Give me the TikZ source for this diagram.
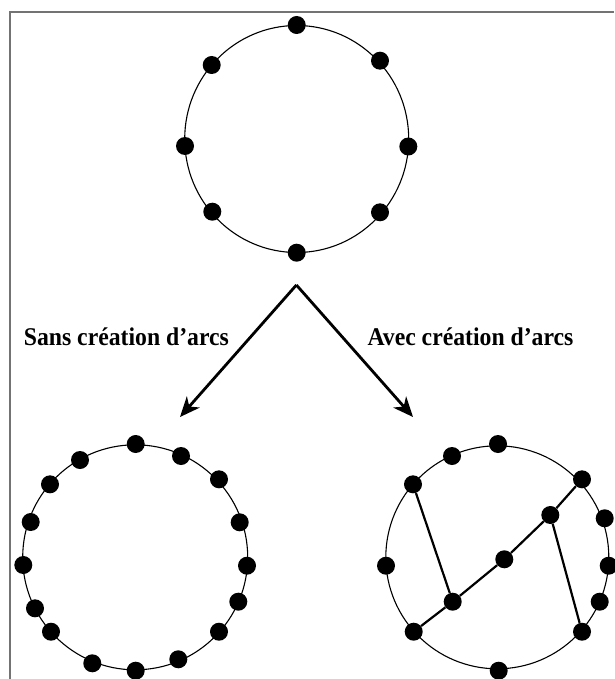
\documentclass[tikz,border=0pt]{standalone}
\usepackage{fontspec}
\setmainfont{Liberation Serif}
\newfontfamily\lblfont[FakeStretch=0.93]{Liberation Serif}
\usetikzlibrary{arrows.meta}
\tikzset{
  dot/.style={circle,fill=black,draw=none,inner sep=0pt,minimum size=18pt},
  ring/.style={line width=1.1pt,black},
  edgeline/.style={line width=2.2pt,black},
  bigarrow/.style={line width=2.8pt,black,-{Stealth[length=20pt,width=17pt,inset=6pt]}},
  lbl/.style={font=\lblfont\fontsize{25.5}{30}\selectfont\bfseries,inner sep=0pt,anchor=base},
  frame/.style={line width=1.4pt,color=black!55}
}
\begin{document}
\begin{tikzpicture}[x=1pt,y=-1pt]
\useasboundingbox (0,0) rectangle (614,679);
% frame (left and top edges)
\draw[frame] (10,679) -- (10,12) -- (614,12);
% top circle
\draw[ring] (296.7,139) ellipse [x radius=112,y radius=113.5];
\node[dot] (t1) at (296.7,25) {};
\node[dot] (t2) at (380,60.7) {};
\node[dot] (t3) at (408.3,146.5) {};
\node[dot] (t4) at (380,212.3) {};
\node[dot] (t5) at (296.7,252.7) {};
\node[dot] (t6) at (212.3,211.7) {};
\node[dot] (t7) at (185,146) {};
\node[dot] (t8) at (211.7,65) {};
% arrows
\coordinate (apex) at (296.4,285);
\coordinate (tipL) at (180,417);
\coordinate (tipR) at (413,417);
\draw[bigarrow] (apex) -- (tipL);
\draw[bigarrow] (apex) -- (tipR);
\node[lbl] (sans) at (126.4,345) {Sans création d’arcs};
\node[lbl] (avec) at (470.5,345) {Avec création d’arcs};
% bottom-left circle
\draw[ring] (135.2,557.3) circle [radius=112.5];
\node[dot] (l1) at (135.7,444) {};
\node[dot] (l2) at (181,456) {};
\node[dot] (l3) at (219,479.3) {};
\node[dot] (l4) at (239.7,522.3) {};
\node[dot] (l5) at (247,565.7) {};
\node[dot] (l6) at (238.3,601.7) {};
\node[dot] (l7) at (219,631.7) {};
\node[dot] (l8) at (178.3,659.3) {};
\node[dot] (l9) at (135.7,670.7) {};
\node[dot] (l10) at (92.3,663.3) {};
\node[dot] (l11) at (51,631.7) {};
\node[dot] (l12) at (35,608.3) {};
\node[dot] (l13) at (23.3,565) {};
\node[dot] (l14) at (30.7,522) {};
\node[dot] (l15) at (50,484.3) {};
\node[dot] (l16) at (80,460) {};
% bottom-right circle
\draw[ring] (497.3,557.3) circle [radius=111.5];
\node[dot] (r1) at (498,444) {};
\node[dot] (r2) at (582,479.3) {};
\node[dot] (r3) at (604.7,518.3) {};
\node[dot] (r4) at (608.7,565.7) {};
\node[dot] (r5) at (599.7,601.7) {};
\node[dot] (r6) at (582,631.7) {};
\node[dot] (r7) at (498.7,670.7) {};
\node[dot] (r8) at (413.7,631.7) {};
\node[dot] (r9) at (386,565.7) {};
\node[dot] (r10) at (413,484.3) {};
\node[dot] (r11) at (452,456) {};
\node[dot] (m1) at (550.3,515) {};
\node[dot] (m2) at (504.3,559.3) {};
\node[dot] (m3) at (452.7,601.7) {};
\draw[edgeline] (r10) -- (m3);
\draw[edgeline] (r8) -- (m3) -- (m2) -- (m1) -- (r2);
\draw[edgeline] (m1) -- (r6);
\end{tikzpicture}
\end{document}
